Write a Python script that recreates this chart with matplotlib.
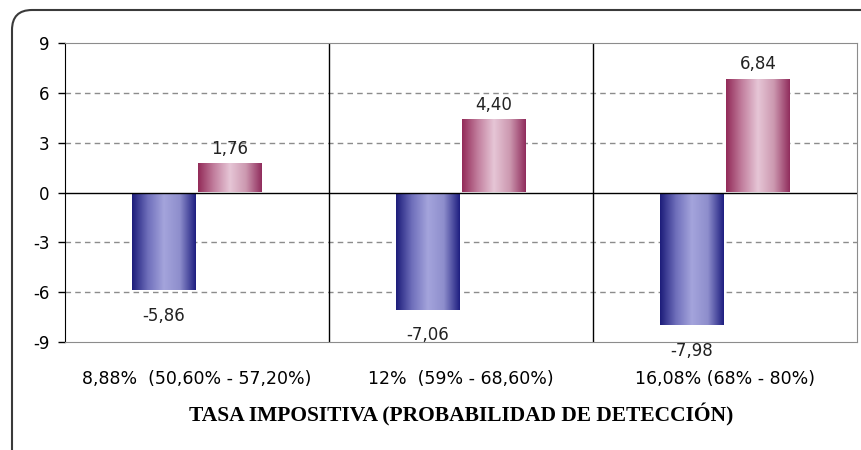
import numpy as np
import matplotlib
matplotlib.use("Agg")
import matplotlib.pyplot as plt
from matplotlib.colors import LinearSegmentedColormap
from matplotlib.patches import FancyBboxPatch

# datos
categorias = ["8,88%  (50,60% - 57,20%)", "12%  (59% - 68,60%)", "16,08% (68% - 80%)"]
serie_azul = [-5.86, -7.06, -7.98]
serie_rosa = [1.76, 4.40, 6.84]
yticks = [-9, -6, -3, 0, 3, 6, 9]
titulo_x = "TASA IMPOSITIVA (PROBABILIDAD DE DETECCIÓN)"

cmap_azul = LinearSegmentedColormap.from_list("azul", ["#1c1c7a", "#6f6fbb", "#a4a4dc", "#8e8ecc", "#1e1e80"])
cmap_rosa = LinearSegmentedColormap.from_list("rosa", ["#922a58", "#c27f9e", "#e6c6d6", "#cc98b0", "#902c5c"])

fig = plt.figure(figsize=(8.61, 4.5), dpi=100)

# marco redondeado exterior (se sale por la derecha y abajo), en pulgadas
marco = FancyBboxPatch((0.12, -0.5), 9.0, 4.5 - 0.10 + 0.5,
                       boxstyle="round,pad=0,rounding_size=0.2",
                       transform=fig.dpi_scale_trans, fill=False,
                       edgecolor="#3a3a3a", linewidth=1.5)
fig.patches.append(marco)

ax = fig.add_axes([65 / 861, 1 - 342 / 450, 792 / 861, 299 / 450])

x = np.arange(len(categorias))
w = 0.24
def barras_degradado(pos, vals, cmap):
    bars = ax.bar(pos, vals, width=w, color="none", edgecolor="none", zorder=3)
    grad = np.linspace(0, 1, 256).reshape(1, -1)
    for b in bars:
        x0, y0 = b.get_x(), b.get_y()
        im = ax.imshow(grad, cmap=cmap, aspect="auto", zorder=3,
                       extent=[x0, x0 + b.get_width(), y0, y0 + b.get_height()])
        im.set_clip_path(b)
    return bars

barras_degradado(x - 0.125, serie_azul, cmap_azul)
barras_degradado(x + 0.125, serie_rosa, cmap_rosa)

ax.set_xlim(-0.5, len(categorias) - 0.5)
ax.set_ylim(-9, 9)

for v in [-6, -3, 3, 6]:
    ax.axhline(v, color="#8c8c8c", linestyle=(0, (4, 3)), linewidth=1, zorder=1)
ax.axhline(0, color="black", linewidth=1, zorder=4)
for xv in x[:-1] + 0.5:
    ax.axvline(xv, color="black", linewidth=1, zorder=2)

# etiquetas de datos
for i in range(len(categorias)):
    ax.annotate(f"{serie_rosa[i]:.2f}".replace(".", ","), (x[i] + 0.125, serie_rosa[i]),
                xytext=(0, 4), textcoords="offset points", ha="center", va="bottom",
                fontsize=12, color="#222222", zorder=5)
    ax.annotate(f"{serie_azul[i]:.2f}".replace(".", ","), (x[i] - 0.125, serie_azul[i]),
                xytext=(0, -12), textcoords="offset points", ha="center", va="top",
                fontsize=12, color="#222222", zorder=5, annotation_clip=False)

ax.set_yticks(yticks)
ax.set_yticklabels([str(t) for t in yticks], fontsize=12)
ax.set_xticks(x)
ax.set_xticklabels(categorias, fontsize=12.5)
ax.tick_params(axis="x", length=0, pad=20)
ax.tick_params(axis="y", length=5, width=1, direction="out", pad=6)
ax.set_xlabel(titulo_x, family="Liberation Serif", fontweight="bold", fontsize=15.5, labelpad=11)

for s in ["top", "right", "bottom"]:
    ax.spines[s].set_color("#8c8c8c")
ax.spines["left"].set_color("black")

fig.savefig("out.png", dpi=100)
